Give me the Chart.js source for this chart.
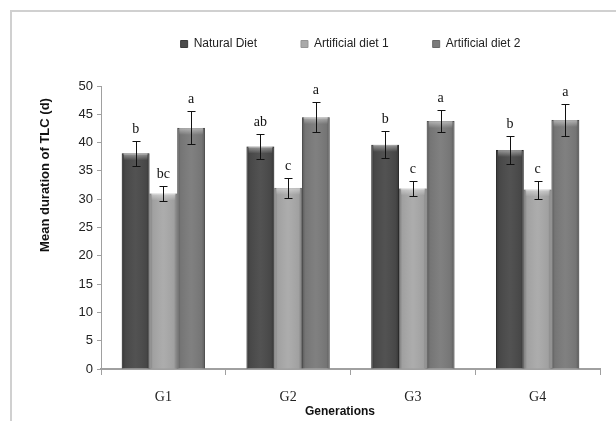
<!DOCTYPE html>
<html>
<head>
<meta charset="utf-8">
<script src="https://cdn.jsdelivr.net/npm/chart.js@4"></script>
<style>
  html, body { margin: 0; padding: 0; background: #fff; }
  #wrap { position: relative; width: 616px; height: 421px; }
  #frame { position: absolute; left: 10px; top: 10px; right: -10px; bottom: -10px;
           border-top: 2px solid #d0d0d0; border-left: 2px solid #d0d0d0; }
  canvas { position: absolute; left: 0; top: 0; }
</style>
</head>
<body>
<div id="wrap">
  <div id="frame"></div>
  <canvas id="chart" width="616" height="421"></canvas>
</div>
<script>
// data
const generations = ['G1', 'G2', 'G3', 'G4'];
const naturalDiet = [38.1, 39.3, 39.6, 38.7];
const naturalErr = [2.2, 2.2, 2.4, 2.4];
const artificial1 = [31.0, 32.0, 31.9, 31.7];
const artificial1Err = [1.4, 1.7, 1.3, 1.6];
const artificial2 = [42.6, 44.5, 43.8, 44.0];
const artificial2Err = [2.9, 2.6, 1.9, 2.9];
const naturalLetters = ['b', 'ab', 'b', 'b'];
const artificial1Letters = ['bc', 'c', 'c', 'c'];
const artificial2Letters = ['a', 'a', 'a', 'a'];

const errs = [naturalErr, artificial1Err, artificial2Err];
const letters = [naturalLetters, artificial1Letters, artificial2Letters];

const narrow = "'Liberation Sans Narrow', 'Liberation Sans', sans-serif";
const boldSans = "bold 12px 'Liberation Sans', sans-serif";

// shading on the bars + error bars + letters
const barDeco = {
  id: 'barDeco',
  afterDatasetsDraw(chart) {
    const ctx = chart.ctx;
    const y = chart.scales.y;
    chart.data.datasets.forEach(function (ds, di) {
      const meta = chart.getDatasetMeta(di);
      meta.data.forEach(function (bar, i) {
        const left = bar.x - bar.width / 2;
        const right = bar.x + bar.width / 2;
        const top = bar.y, bottom = bar.base;
        // side shading
        let g = ctx.createLinearGradient(left, 0, right, 0);
        g.addColorStop(0, 'rgba(0,0,0,0.28)');
        g.addColorStop(0.12, 'rgba(0,0,0,0.05)');
        g.addColorStop(0.5, 'rgba(255,255,255,0.04)');
        g.addColorStop(0.88, 'rgba(0,0,0,0.05)');
        g.addColorStop(1, 'rgba(0,0,0,0.28)');
        ctx.save();
        ctx.fillStyle = g;
        ctx.fillRect(left, top, right - left, bottom - top);
        // top highlight
        let h = ctx.createLinearGradient(0, top, 0, top + 7);
        h.addColorStop(0, 'rgba(255,255,255,0.45)');
        h.addColorStop(1, 'rgba(255,255,255,0)');
        ctx.fillStyle = h;
        ctx.fillRect(left + 2, top, right - left - 4, 7);
        ctx.restore();

        // error bar
        const v = ds.data[i];
        const e = errs[di][i];
        const yTop = Math.round(y.getPixelForValue(v + e)) + 0.5;
        const yBot = Math.round(y.getPixelForValue(v - e)) + 0.5;
        const x = Math.round(bar.x) + 0.5;
        ctx.save();
        ctx.strokeStyle = '#111';
        ctx.lineWidth = 1;
        ctx.beginPath();
        ctx.moveTo(x, yTop); ctx.lineTo(x, yBot);
        ctx.moveTo(x - 4, yTop); ctx.lineTo(x + 4, yTop);
        ctx.moveTo(x - 4, yBot); ctx.lineTo(x + 4, yBot);
        ctx.stroke();

        // significance letter
        ctx.fillStyle = '#111';
        ctx.font = "14px 'Liberation Serif', serif";
        ctx.textAlign = 'center';
        ctx.textBaseline = 'alphabetic';
        ctx.fillText(letters[di][i], bar.x, yTop - 9);
        ctx.restore();
      });
    });
  }
};

// axis titles sit off-centre in the original, so draw them here
const axisTitles = {
  id: 'axisTitles',
  afterDraw(chart) {
    const ctx = chart.ctx;
    ctx.save();
    ctx.fillStyle = '#111';
    ctx.textAlign = 'center';
    ctx.textBaseline = 'middle';
    ctx.font = "bold 13px 'Liberation Sans', sans-serif";
    ctx.translate(45, 175);
    ctx.rotate(-Math.PI / 2);
    ctx.fillText('Mean duration of TLC (d)', 0, 0);
    ctx.restore();

    ctx.save();
    ctx.fillStyle = '#111';
    ctx.textAlign = 'center';
    ctx.textBaseline = 'middle';
    ctx.font = boldSans;
    ctx.fillText('Generations', 340, 412);
    ctx.restore();
  }
};

const legendSpace = {
  id: 'legendSpace',
  beforeInit(chart) {
    const fit = chart.legend.fit;
    chart.legend.fit = function () {
      fit.bind(chart.legend)();
      this.height = 56;
    };
  },
  afterLayout(chart) {
    chart.legend.top -= 36;
    chart.legend.bottom -= 36;
  }
};

new Chart(document.getElementById('chart'), {
  type: 'bar',
  data: {
    labels: generations,
    datasets: [{
      label: 'Natural Diet',
      data: naturalDiet,
      backgroundColor: '#4b4b4b',
      borderColor: '#3a3a3a',
      borderWidth: 1
    }, {
      label: 'Artificial diet 1',
      data: artificial1,
      backgroundColor: '#a9a9a9',
      borderColor: '#959595',
      borderWidth: 1
    }, {
      label: 'Artificial diet 2',
      data: artificial2,
      backgroundColor: '#7b7b7b',
      borderColor: '#686868',
      borderWidth: 1
    }]
  },
  plugins: [barDeco, axisTitles, legendSpace],
  options: {
    responsive: false,
    animation: false,
    layout: { padding: { left: 30, right: 16, top: 30, bottom: 0 } },
    datasets: {
      bar: { categoryPercentage: 0.667, barPercentage: 1.0 }
    },
    plugins: {
      tooltip: { enabled: false },
      legend: {
        position: 'top',
        fullSize: false,
        labels: {
          boxWidth: 7,
          boxHeight: 7,
          padding: 44,
          color: '#222',
          font: { family: narrow, size: 12 }
        }
      }
    },
    scales: {
      x: {
        afterFit(scale) { scale.height = 52; },
        grid: {
          offset: true,
          drawOnChartArea: false,
          tickLength: 6,
          color: '#a0a0a0'
        },
        border: { color: '#a0a0a0', width: 2 },
        ticks: {
          color: '#222',
          padding: 14,
          font: { family: "'Liberation Serif', serif", size: 14 }
        }
      },
      y: {
        min: 0,
        max: 50,
        afterFit(scale) { scale.width = 71; },
        grid: {
          drawOnChartArea: false,
          tickLength: 4,
          color: '#a0a0a0'
        },
        border: { color: '#a0a0a0', width: 1 },
        ticks: {
          stepSize: 5,
          color: '#222',
          padding: 4,
          font: { family: narrow, size: 13 }
        }
      }
    }
  }
});
</script>
</body>
</html>
